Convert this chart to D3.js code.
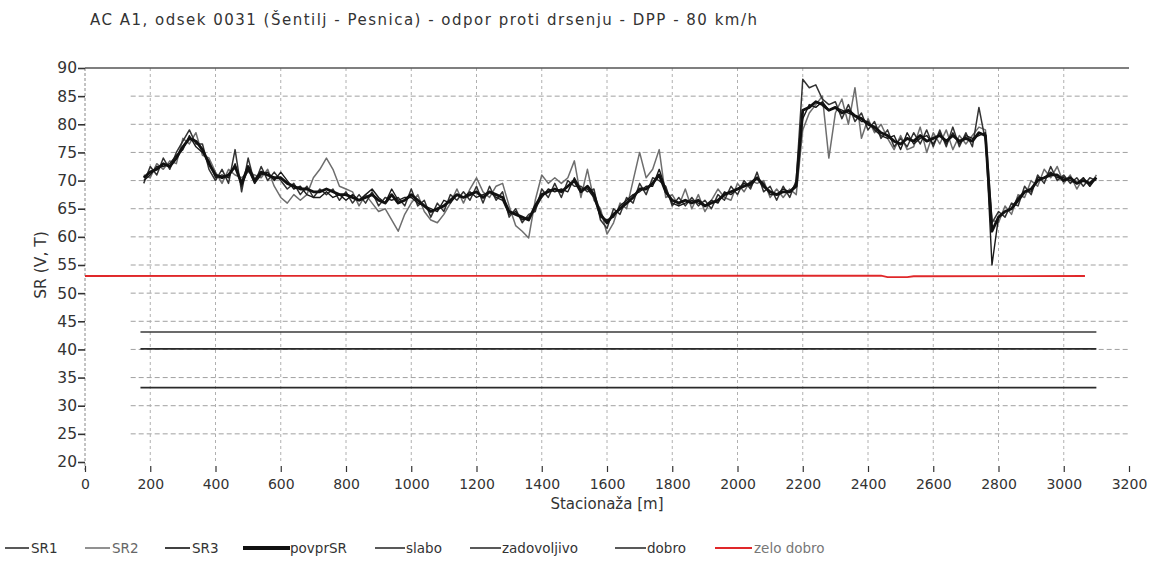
<!DOCTYPE html>
<html><head><meta charset="utf-8">
<script src="https://cdn.jsdelivr.net/npm/d3@7"></script>
<style>
body{margin:0;background:#fff;}
svg{display:block;font-family:"DejaVu Sans",Verdana,sans-serif;}
</style></head>
<body>
<svg id="c" width="1149" height="574"></svg>
<script>
const title = "AC A1, odsek 0031 (Šentilj - Pesnica) - odpor proti drsenju - DPP - 80 km/h";
const xTicks = [0,200,400,600,800,1000,1200,1400,1600,1800,2000,2200,2400,2600,2800,3000,3200];
const yTicks = [20,25,30,35,40,45,50,55,60,65,70,75,80,85,90];

const stations = [
 180,200,220,240,260,280,300,320,340,360,
 380,400,420,440,460,480,500,520,540,560,
 580,600,620,640,660,680,700,720,740,760,
 780,800,820,840,860,880,900,920,940,960,
 980,1000,1020,1040,1060,1080,1100,1120,1140,1160,
 1180,1200,1220,1240,1260,1280,1300,1320,1340,1360,
 1380,1400,1420,1440,1460,1480,1500,1520,1540,1560,
 1580,1600,1620,1640,1660,1680,1700,1720,1740,1760,
 1780,1800,1820,1840,1860,1880,1900,1920,1940,1960,
 1980,2000,2020,2040,2060,2080,2100,2120,2140,2160,
 2180,2200,2220,2240,2260,2280,2300,2320,2340,2360,
 2380,2400,2420,2440,2460,2480,2500,2520,2540,2560,
 2580,2600,2620,2640,2660,2680,2700,2720,2740,2760,
 2780,2800,2820,2840,2860,2880,2900,2920,2940,2960,
 2980,3000,3020,3040,3060,3080,3100];

const povprSR = [
 70.5,71.5,72,73,72.5,74,76,77.5,77,75.5,
 73,71,70.5,71,72.5,69.5,72.5,70,71.5,71,
 70.5,70.5,69.5,69,68.5,68.5,68,68,68.5,68,
 67.5,67.5,67,66.5,67,67.5,66.5,66,67.5,66,
 66.5,67.5,66.5,65.5,64.5,65,65.5,66.5,67.5,67,
 67.5,68,67,68,67.5,67,64.5,64,63.5,63,
 65.5,67.5,68,68.5,68,69,70,68,69,67.5,
 64,62.5,64,65,66,67,68.5,68.5,69.5,71,
 68,66.5,66,66.5,66,66.5,65.5,66,66.5,67.5,
 68,68.5,69,69.5,70.5,69,68,67.5,68,68,
 69,82.5,83,84,83.5,82.5,83,82,82.5,81.5,
 81,80,79.5,78.5,78,77,76.5,77.5,77,78,
 77,77.5,78,77,78,77,77.5,77,78.5,78,
 61,63.5,64.5,65,66.5,68,68.5,70,70.5,71,
 71,70,70.5,69.5,70,69.5,70.5];

const SR1 = [
 69.5,72.5,71,74,72,75,77,79,76.5,76.5,
 72,70,72,69.5,75.5,68,74,69.5,72.5,70,
 71.5,70,68.5,69.5,67.5,69,67,68.5,67.5,68.5,
 66.5,68,66,67.5,66,68,65.5,67,66.5,67,
 65.5,68.5,65.5,66.5,63.5,66,64.5,67.5,66.5,68,
 66.5,69,66,69,66.5,68,63.5,65,62.5,64,
 64.5,68.5,67,69.5,67,70,69,69,68,68.5,
 63,61.5,65,64,67,66,69.5,67.5,70.5,70,
 69,65.5,67,65.5,67,65.5,66.5,65,67.5,66.5,
 69,67.5,70,68.5,71.5,68,69,66.5,69,67,
 70,88,86.5,87,84.5,83.5,84,81,83.5,80.5,
 82,79,80.5,77.5,79,76,77.5,76,78.5,76.5,
 79,76,79,76,79.5,76,78.5,76,83,77,
 62.5,64.5,63.5,66,65.5,69,67.5,71,69.5,72.5,
 70,71,69.5,70.5,69,70.5,70];

const SR2 = [
 71,70.5,73,72,73.5,73,77.5,76.5,78.5,74.5,
 74,71.5,69.5,72,71,70.5,71.5,71,70.5,72,
 69,67,66,67.5,66.5,67.5,70.5,72,74,72,
 69,68.5,68,65.5,67.5,66,64.5,65,63,61,
 64,66,67.5,64.5,63,62.5,64,66,68.5,66,
 68.5,70.5,68,67,69,69.5,65.5,62,61,59.8,
 66.5,71,69.5,70.5,69.5,70.5,73.5,67,72,66.5,
 65,60.5,62.5,66,65,70,75,70.5,72,75.5,
 67,67.5,65.5,68.5,65,67.5,64.5,66.5,68.5,67,
 66.5,69.5,68,70,69.5,70,67,68.5,67,68.5,
 67.5,79,82,83.5,85,74,82,84.5,80,86.5,
 77.5,81,78.5,80,77.5,75.5,78,75.5,76,79.5,
 75,78.5,76.5,79,75.5,78,76.5,78,79.5,79,
 63,62.5,65.5,64,67.5,67,70,69,72,70.5,
 72.5,69.5,71,68.5,70.5,69,71];

const SR3 = [
 70,71,72.5,72.5,73,74.5,75.5,78,76,75,
 73.5,70.5,71,70.5,73,69,72,69.5,71,71.5,
 70,71.5,70,68.5,69,67.5,67,67,68,67,
 67.5,66.5,67.5,66.5,67.5,68.5,67,66,68.5,66.5,
 67,67,66,65.5,65,64.5,66.5,66,67.5,67,
 68,67,67.5,68,67,66.5,64,64.5,63,63.5,
 65,67,68.5,68,68.5,68,70.5,68.5,68.5,67,
 63.5,63,63.5,65.5,66.5,67.5,68,69,69,72,
 68.5,66,65.5,66,66.5,66,65.5,66.5,66,68,
 67.5,68.5,69.5,69,70.5,69.5,67.5,67.5,68.5,68,
 69.5,81,83.5,83,84,82.5,83,82.5,82,81.5,
 80.5,80.5,79,78,77.5,78,75.5,78.5,76.5,77.5,
 78,76.5,78.5,76.5,78.5,76.5,78,77.5,78,78.5,
 55,63.5,64.5,65,67,68,68,70.5,70.5,71.5,
 70.5,70.5,70,69.5,70.5,69,70.5];

// limit lines: [stacionaža, SR]
const slabo = [[170,33.2],[3100,33.2]];
const zadovoljivo = [[170,40.1],[3100,40.1]];
const dobro = [[170,43.1],[3100,43.1]];
const zeloDobro = [[0,53.05],[2440,53.1],[2460,52.85],[2520,52.85],[2540,53],[3065,53.05]];

const legendNames = ["SR1","SR2","SR3","povprSR","slabo","zadovoljivo","dobro","zelo dobro"];

const svg = d3.select("#c");
const x = d3.scaleLinear().domain([0,3200]).range([85,1129]);
const y = d3.scaleLinear().domain([20,90]).range([462,68]);

// title
svg.append("text").attr("x",90).attr("y",25).attr("font-size",15).attr("fill","#333")
 .attr("textLength",667).attr("lengthAdjust","spacing").text(title);

// grid
const g = svg.append("g");
g.selectAll("line.hg").data(yTicks.filter(d=>d>20 && d<90)).join("line")
 .attr("x1",x(140)).attr("x2",x(3200)).attr("y1",d=>y(d)).attr("y2",d=>y(d))
 .attr("stroke","#a0a0a0").attr("stroke-width",1).attr("stroke-dasharray","5,3");
g.selectAll("line.vg").data(xTicks.filter(d=>d>0 && d<3200)).join("line")
 .attr("x1",d=>x(d)).attr("x2",d=>x(d)).attr("y1",y(90)).attr("y2",y(20))
 .attr("stroke","#b0b0b0").attr("stroke-width",1).attr("stroke-dasharray","3,3");
// y axis line (dashed)
g.append("line").attr("x1",x(0)).attr("x2",x(0)).attr("y1",y(90)).attr("y2",470)
 .attr("stroke","#888").attr("stroke-dasharray","3,2");
// top frame
g.append("line").attr("x1",x(0)).attr("x2",x(3200)).attr("y1",y(90)).attr("y2",y(90))
 .attr("stroke","#555").attr("stroke-width",1.4);

// y axis
const yAxis = d3.axisLeft(y).tickValues(yTicks).tickSize(7).tickPadding(1).tickFormat(d3.format("d"));
const ya = svg.append("g").attr("transform",`translate(${x(0)},0)`).call(yAxis);
ya.select(".domain").remove();
ya.selectAll(".tick line").attr("stroke","#333").attr("stroke-width",1.6);
ya.selectAll(".tick text").attr("font-size",15.5).attr("fill","#333").attr("font-family","DejaVu Sans");

// x axis
const xAxis = d3.axisBottom(x).tickValues(xTicks).tickSize(6).tickPadding(7).tickFormat(d3.format("d"));
const xa = svg.append("g").attr("transform",`translate(0,466)`).call(xAxis);
xa.select(".domain").remove();
xa.selectAll(".tick line").attr("stroke","#333").attr("stroke-width",1.2);
xa.selectAll(".tick text").attr("font-size",14).attr("fill","#333").attr("font-family","DejaVu Sans");

// axis titles
svg.append("text").attr("x",607).attr("y",509).attr("text-anchor","middle")
 .attr("font-size",15).attr("fill","#333").text("Stacionaža [m]");
svg.append("text").attr("transform","translate(46,265) rotate(-90)").attr("text-anchor","middle")
 .attr("font-size",15.5).attr("fill","#333").text("SR (V, T)");

// limit lines
const lim = d3.line().x(d=>x(d[0])).y(d=>y(d[1]));
[[slabo,"#2a2a2a"],[zadovoljivo,"#2a2a2a"],[dobro,"#3a3a3a"]].forEach(([d,c])=>{
  svg.append("path").attr("d",lim(d)).attr("fill","none").attr("stroke",c).attr("stroke-width",1.7);
});
svg.append("path").attr("d",lim(zeloDobro)).attr("fill","none").attr("stroke","#e0282a").attr("stroke-width",1.8);

// data lines
const ln = d3.line().x((d,i)=>x(stations[i])).y(d=>y(d));
const series = [
 {v:SR2, c:"#6e6e6e", w:1.5},
 {v:SR1, c:"#333", w:1.5},
 {v:SR3, c:"#1a1a1a", w:1.4},
 {v:povprSR, c:"#111", w:2.8}
];
series.forEach(s=>{
  svg.append("path").attr("d",ln(s.v)).attr("fill","none").attr("stroke",s.c)
   .attr("stroke-width",s.w).attr("stroke-linejoin","round");
});

// legend
const leg = [
 {n:legendNames[0], x1:5, x2:29, tx:31, c:"#222", w:1.5, tc:"#333"},
 {n:legendNames[1], x1:85, x2:110, tx:112, c:"#555", w:1.3, tc:"#666"},
 {n:legendNames[2], x1:165, x2:190, tx:192, c:"#111", w:1.6, tc:"#333"},
 {n:legendNames[3], x1:243, x2:290, tx:290, c:"#111", w:4, tc:"#333"},
 {n:legendNames[4], x1:375, x2:405, tx:406, c:"#222", w:1.5, tc:"#333"},
 {n:legendNames[5], x1:470, x2:501, tx:502, c:"#222", w:1.5, tc:"#333"},
 {n:legendNames[6], x1:615, x2:646, tx:647, c:"#222", w:1.5, tc:"#333"},
 {n:legendNames[7], x1:715, x2:752, tx:754, c:"#e0282a", w:2.2, tc:"#777"}
];
const lg = svg.append("g");
leg.forEach(l=>{
  lg.append("line").attr("x1",l.x1).attr("x2",l.x2).attr("y1",548).attr("y2",548)
   .attr("stroke",l.c).attr("stroke-width",l.w);
  lg.append("text").attr("x",l.tx).attr("y",553).attr("font-size",13.5).attr("fill",l.tc).text(l.n);
});
</script>
</body></html>
